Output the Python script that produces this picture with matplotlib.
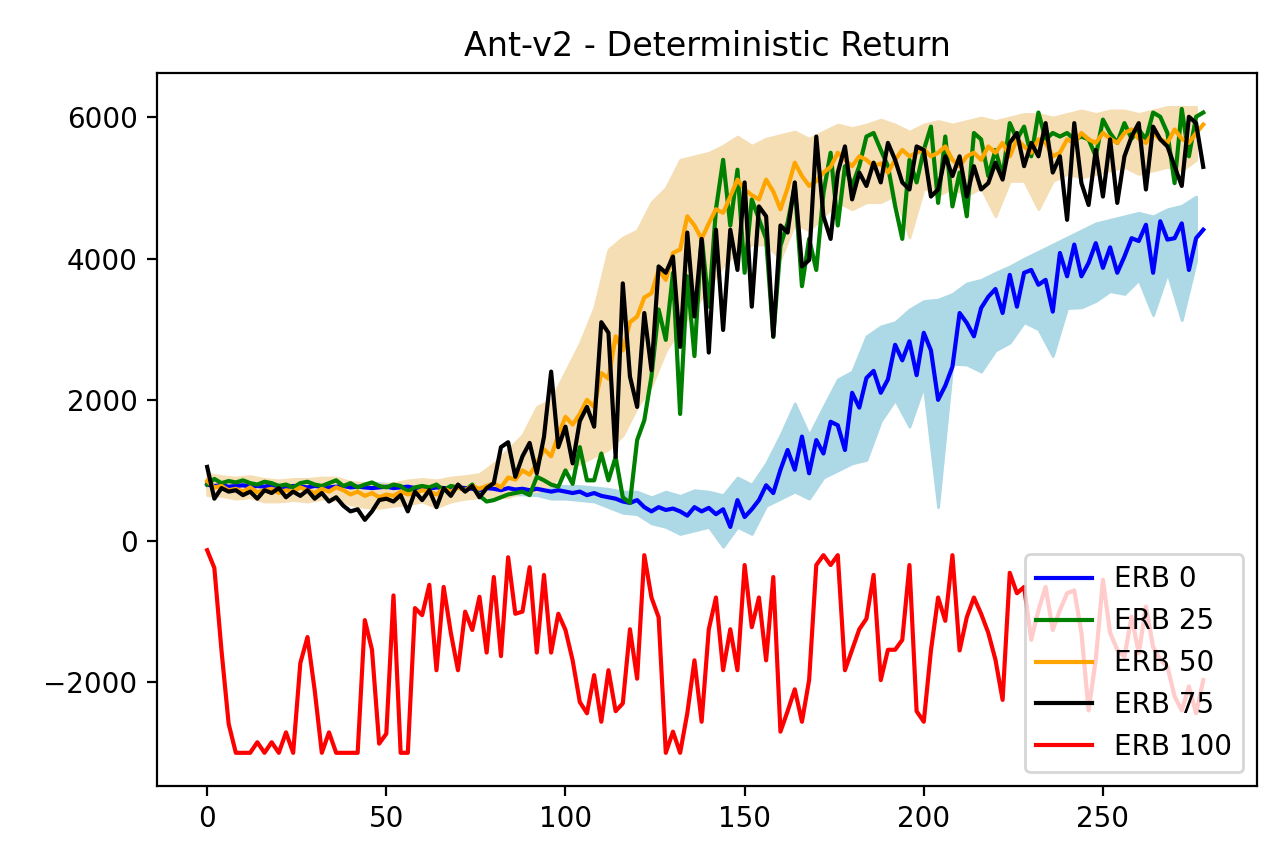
import numpy as np
import matplotlib.pyplot as plt

# episodes (every 2nd point)
x = np.arange(0, 280, 2)
# band samples (every 4th point)
xb = np.arange(0, 280, 4)

erb0 = [800, 780, 790, 770, 780, 790, 770, 780, 770, 790, 780, 760, 780, 770, 760, 780, 770, 760, 770, 780,
        760, 770, 760, 750, 760, 770, 750, 760, 770, 750, 760, 740, 760, 750, 740, 760, 750, 740, 720, 750,
        740, 720, 750, 730, 740, 720, 740, 720, 700, 720, 700, 680, 700, 650, 680, 640, 620, 600, 560, 540,
        580, 480, 420, 480, 440, 460, 420, 360, 480, 420, 470, 380, 450, 200, 580, 340, 450, 580, 790, 680,
        1010, 1290, 1010, 1480, 960, 1430, 1240, 1690, 1640, 1290, 2100, 1890, 2310, 2410, 2100, 2290, 2780, 2560, 2830, 2350,
        2950, 2700, 2000, 2200, 2470, 3230, 3090, 2900, 3300, 3460, 3570, 3230, 3770, 3320, 3800, 3840, 3630, 3700, 3250, 4080,
        3750, 4200, 3750, 3940, 4220, 3870, 4160, 3800, 4030, 4290, 4250, 4480, 3800, 4530, 4270, 4290, 4500, 3840, 4290, 4410]

erb25 = [800, 880, 820, 850, 830, 860, 820, 800, 840, 820, 780, 800, 760, 820, 840, 800, 780, 820, 860, 780,
         820, 760, 800, 830, 780, 760, 800, 780, 700, 760, 780, 760, 800, 720, 780, 760, 720, 800, 640, 560,
         580, 620, 660, 680, 700, 650, 910, 860, 800, 770, 1000, 810, 1330, 860, 860, 1240, 860, 1190, 620, 540,
         1430, 1710, 2330, 3280, 2850, 3800, 1800, 3750, 2620, 4320, 3320, 4700, 5400, 4470, 5260, 3800, 4840, 4560, 4280, 2890,
         4180, 4510, 5030, 3610, 4280, 3840, 4930, 5500, 4470, 5310, 5030, 5310, 5730, 5780, 5540, 5310, 4750, 4280, 5400, 5080,
         5540, 5870, 4790, 5730, 4740, 5220, 4600, 5780, 5690, 5170, 5540, 5170, 5920, 5690, 5870, 5450, 6070, 5690, 5780, 5730,
         5780, 5690, 5730, 5690, 5450, 5970, 5780, 5640, 5920, 5700, 5830, 5690, 6070, 6010, 5780, 5070, 6120, 5450, 6010, 6070]

erb50 = [850, 760, 780, 720, 740, 700, 760, 690, 720, 740, 680, 720, 700, 760, 720, 680, 740, 700, 760, 720,
         660, 700, 640, 680, 620, 660, 640, 700, 660, 680, 720, 700, 660, 740, 700, 760, 720, 780, 740, 780,
         820, 760, 900, 870, 1000, 940, 1100, 1300, 1200, 1500, 1760, 1650, 1800, 2000, 1900, 2380, 2300, 2900, 2700, 3100,
         3180, 3450, 3510, 3840, 3700, 4080, 4130, 4600, 4470, 4280, 4500, 4700, 4650, 4880, 5120, 4980, 4900, 4840, 5120, 4950,
         4700, 5000, 5360, 5170, 5030, 5100, 5220, 5300, 5500, 5400, 5310, 5450, 5400, 5310, 5350, 5220, 5400, 5540, 5450, 5500,
         5550, 5450, 5500, 5590, 5400, 5310, 5450, 5500, 5400, 5590, 5500, 5640, 5450, 5690, 5590, 5500, 5690, 5640, 5450, 5500,
         5690, 5640, 5780, 5690, 5640, 5780, 5700, 5640, 5780, 5830, 5700, 5640, 5780, 5690, 5640, 5830, 5700, 5640, 5780, 5900]

erb75 = [1050, 600, 750, 700, 720, 650, 700, 600, 720, 680, 750, 620, 700, 640, 720, 600, 680, 560, 620, 500,
         420, 450, 300, 420, 580, 600, 560, 650, 420, 700, 580, 720, 480, 750, 640, 800, 700, 780, 620, 750,
         820, 1330, 1400, 910, 1200, 1390, 960, 1475, 2400, 1330, 1620, 1100, 1700, 1900, 1620, 3100, 2950, 1190, 3650, 2330,
         1900, 3230, 2420, 3890, 3800, 4030, 2750, 4370, 3180, 4280, 2670, 4410, 2990, 4410, 3840, 5080, 3320, 4740, 4600, 2900,
         4470, 4370, 5080, 3890, 3980, 5730, 4600, 4280, 5220, 5590, 4840, 5220, 5030, 5360, 5080, 5640, 5400, 5080, 4980, 5590,
         5540, 4880, 4980, 5450, 5170, 5450, 4880, 5310, 4980, 5070, 5360, 5120, 5640, 5780, 5310, 5640, 5450, 5920, 5220, 5450,
         4550, 5920, 5070, 4760, 5540, 4880, 5690, 4790, 5450, 5730, 5920, 4980, 5870, 5690, 5590, 5310, 5030, 6010, 5920, 5300]

erb100 = [-130, -380, -1550, -2590, -3000, -3000, -3000, -2850, -3000, -2850, -3000, -2710, -3000, -1730, -1360, -2110, -3000, -2710, -3000, -3000,
          -3000, -3000, -1120, -1540, -2870, -2730, -770, -3000, -3000, -950, -1050, -620, -1830, -650, -1300, -1830, -1000, -1260, -790, -1580,
          -510, -1630, -230, -1030, -1000, -370, -1580, -480, -1580, -1030, -1260, -1690, -2280, -2440, -1900, -2560, -1830, -2410, -2300, -1250,
          -1950, -200, -800, -1080, -3000, -2700, -3000, -2440, -1690, -2560, -1250, -800, -1830, -1250, -1830, -340, -1220, -800, -1690, -510,
          -2700, -2410, -2100, -2560, -1970, -340, -200, -340, -200, -1830, -1540, -1250, -1100, -480, -1970, -1540, -1540, -1400, -340, -2410,
          -2560, -1550, -800, -1130, -200, -1550, -1080, -800, -1030, -1300, -1680, -2250, -450, -740, -650, -1400, -980, -650, -1260, -980,
          -740, -700, -1300, -2400, -1680, -550, -1300, -1540, -1640, -1070, -1590, -930, -1500, -1680, -1780, -2200, -2400, -2060, -2440, -1970]

erb0_hi = [860, 850, 840, 840, 830, 840, 830, 820, 830, 820, 820, 810, 820, 810, 820, 810, 810, 800, 800, 790,
           800, 810, 800, 800, 780, 780, 780, 760, 740, 700, 700, 620, 700, 640, 720, 700, 650, 900, 800, 1100,
           1500, 1950, 1500, 1900, 2290, 2400, 2900, 3040, 3100, 3280, 3400, 3420, 3500, 3650, 3700, 3800, 3890, 4000, 4100, 4200,
           4300, 4400, 4500, 4550, 4600, 4650, 4600, 4700, 4750, 4880]
erb0_lo = [740, 730, 720, 710, 720, 720, 710, 700, 710, 700, 690, 690, 690, 680, 690, 680, 690, 670, 680, 650,
           670, 660, 660, 650, 600, 600, 580, 560, 480, 400, 380, 250, 200, 100, 150, 200, -80, 200, 100, 500,
           600, 700, 600, 900, 1000, 1100, 1150, 1700, 2000, 1620, 2200, 480, 2510, 2500, 2400, 2700, 2810, 3100, 3000, 2620,
           3300, 3310, 3400, 3540, 3500, 3700, 3200, 3800, 3130, 3970]

erb50_hi = [950, 920, 900, 920, 880, 860, 880, 880, 900, 900, 840, 820, 800, 820, 860, 880, 860, 900, 920, 950,
            1100, 1300, 1500, 1900, 2000, 2400, 2800, 3300, 4130, 4300, 4400, 4800, 5000, 5400, 5450, 5500, 5600, 5730, 5600, 5700,
            5750, 5800, 5700, 5800, 5900, 5850, 5900, 5970, 5900, 5800, 5900, 5950, 5900, 5950, 6000, 5950, 6000, 6050, 6050, 6000,
            6050, 6100, 6050, 6100, 6100, 6050, 6100, 6150, 6150, 6150]
erb50_lo = [650, 640, 600, 620, 560, 560, 580, 560, 600, 580, 520, 480, 470, 500, 520, 560, 480, 560, 600, 620,
            640, 620, 700, 700, 800, 1000, 1100, 1200, 1300, 1500, 1900, 2200, 2700, 3000, 3300, 3600, 3900, 4100, 4200, 4200,
            4000, 4500, 4400, 4600, 4800, 4700, 4800, 4800, 4900, 4300, 5000, 4900, 5000, 4900, 5000, 4600, 5100, 5100, 4700, 5100,
            5200, 5150, 5200, 5250, 5300, 5200, 5250, 5300, 5250, 5400]

fig = plt.figure(figsize=(6.4, 4.325), dpi=200)
ax = fig.add_axes([157 / 1280, 1 - 786 / 865, 1100 / 1280, 713 / 865])

ax.fill_between(xb, erb0_lo, erb0_hi, color='lightblue')
ax.fill_between(xb, erb50_lo, erb50_hi, color='wheat')

ax.plot(x, erb0, color='blue', label='ERB 0')
ax.plot(x, erb25, color='green', label='ERB 25')
ax.plot(x, erb50, color='orange', label='ERB 50')
ax.plot(x, erb75, color='black', label='ERB 75')
ax.plot(x, erb100, color='red', label='ERB 100')

ax.set_xlim(-14, 293)
ax.set_ylim(-3470, 6630)
ax.set_title('Ant-v2 - Deterministic Return')
ax.legend(loc='lower right')

plt.savefig('out.png', dpi=200)
